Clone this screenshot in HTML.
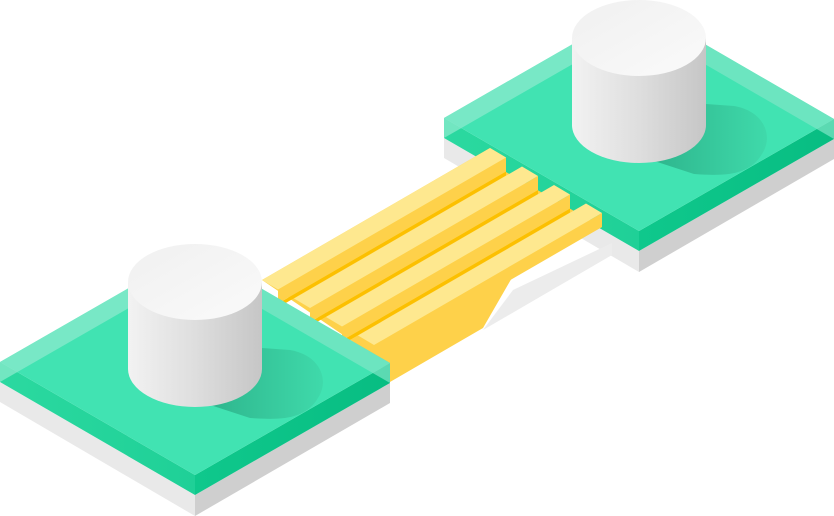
<!DOCTYPE html>
<html><head><meta charset="utf-8"><style>html,body{margin:0;padding:0;background:#fff;width:834px;height:516px;overflow:hidden}</style></head>
<body>
<svg width="834" height="516" viewBox="0 0 834 516" xmlns="http://www.w3.org/2000/svg">
<defs>
<linearGradient id="cyl" x1="0" x2="1" y1="0" y2="0"><stop offset="0" stop-color="#f2f2f2"/><stop offset="0.5" stop-color="#dedede"/><stop offset="1" stop-color="#c6c6c6"/></linearGradient>
<linearGradient id="ctop" x1="0" x2="1" y1="0" y2="1"><stop offset="0" stop-color="#f0f0f0"/><stop offset="1" stop-color="#fafafa"/></linearGradient>
<linearGradient id="shd" x1="0" x2="1" y1="0" y2="0"><stop offset="0" stop-color="#28a882"/><stop offset="1" stop-color="#3fd8a9"/></linearGradient>
<linearGradient id="glf" x1="0" x2="1"><stop offset="0" stop-color="#2bd9a0"/><stop offset="1" stop-color="#1fd097"/></linearGradient>
<linearGradient id="grf" x1="0" x2="1"><stop offset="0" stop-color="#0fc88c"/><stop offset="1" stop-color="#08bd82"/></linearGradient>
<g id="pad">
  <polygon points="0,382 195,495 195,516 0,402" fill="#e9e9e9"/>
  <polygon points="195,495 390,383 390,403 195,516" fill="#cfcfcf"/>
  <polygon points="0,362 195,475 195,495 0,382" fill="url(#glf)"/>
  <polygon points="195,475 390,363 390,383 195,495" fill="url(#grf)"/>
  <polygon points="0,362 195,250 390,363 195,475" fill="#41e3b2"/>
  <polygon points="0,362 195,250 195,270 0,382" fill="#8beacc" opacity="0.75"/>
  <polygon points="195,250 390,363 390,383 195,270" fill="#7fe6c6" opacity="0.7"/>
  <path d="M195,400 L262,365 L262,348 L290,350 C320,355 330,380 318,398 C305,420 280,420 250,418 Z" fill="url(#shd)" opacity="0.85"/>
  <rect x="128" y="282" width="134" height="87" fill="url(#cyl)"/>
  <ellipse cx="195" cy="369" rx="67" ry="38" fill="url(#cyl)"/>
  <ellipse cx="195" cy="282" rx="67" ry="38" fill="url(#ctop)"/>
</g>
</defs>
<use href="#pad" transform="translate(444,-244)"/>
<polygon points="483,330 612,255 612,243 513,290" fill="#ececec"/>
<polygon points="262,280 490,148 506,157.5 506,172 602,227 513,276 483,328 390,382 380,360" fill="#fed14a"/>
<g>
  <polygon points="506,171.5 278,303.5 278,307.5 506,175.5" fill="#fcc000"/>
  <polygon points="538,190 310,322 310,326 538,194" fill="#fcc000"/>
  <polygon points="570,208.5 342,340.5 342,344.5 570,212.5" fill="#fcc000"/>
  <polygon points="506,157.5 278,289.5 278,303.5 506,171.5" fill="#fed14a"/>
  <polygon points="490,148 506,157.5 278,289.5 262,280" fill="#fee88f"/>
  <polygon points="538,176 310,308 310,322 538,190" fill="#fed14a"/>
  <polygon points="522,166.5 538,176 310,308 294,298.5" fill="#fee88f"/>
  <polygon points="570,194.5 342,326.5 342,340.5 570,208.5" fill="#fed14a"/>
  <polygon points="554,185 570,194.5 342,326.5 326,317" fill="#fee88f"/>
  <polygon points="602,213 374,345 374,359 602,227" fill="#fed14a"/>
  <polygon points="586,203.5 602,213 374,345 358,335.5" fill="#fee88f"/>
</g>
<use href="#pad"/>
</svg>
</body></html>
